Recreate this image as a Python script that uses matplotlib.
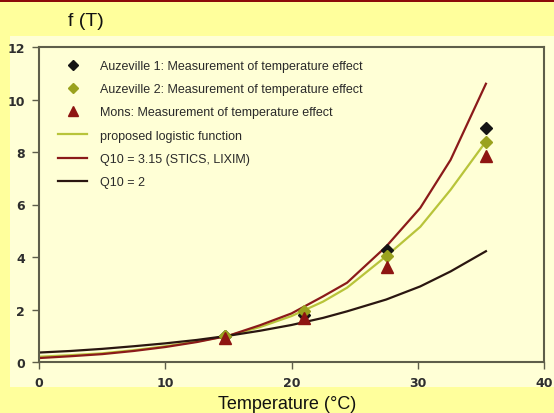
import matplotlib
matplotlib.use("Agg")
import matplotlib.pyplot as plt
from matplotlib.patches import Rectangle
from matplotlib.lines import Line2D

# measured points
t_pts = [14.7, 21.0, 27.6, 35.4]
auz1 = [1.0, 1.8, 4.25, 8.9]
auz2 = [1.0, 1.95, 4.03, 8.38]
mons = [0.92, 1.67, 3.62, 7.83]

# curves
t_curve = [0, 2.5, 5, 7.5, 10, 12.5, 15, 17.5, 20, 22.5, 24.4, 27.5, 30.2, 32.6, 35.4]
logistic = [0.2, 0.26, 0.33, 0.45, 0.6, 0.78, 1.0, 1.33, 1.75, 2.3, 2.83, 4.03, 5.15, 6.56, 8.4]
q10_315 = [0.15, 0.22, 0.3, 0.42, 0.57, 0.76, 1.0, 1.4, 1.85, 2.5, 3.02, 4.4, 5.87, 7.7, 10.6]
q10_2 = [0.36, 0.42, 0.5, 0.6, 0.71, 0.84, 1.0, 1.19, 1.41, 1.68, 1.93, 2.38, 2.88, 3.45, 4.22]

labels = [
    "Auzeville 1: Measurement of temperature effect",
    "Auzeville 2: Measurement of temperature effect",
    "Mons: Measurement of temperature effect",
    "proposed logistic function",
    "Q10 = 3.15 (STICS, LIXIM)",
    "Q10 = 2",
]

c_auz1 = "#141414"
c_auz2 = "#9aa21e"
c_mons = "#8e1512"
c_log = "#b8c43a"
c_315 = "#8b1a1a"
c_2 = "#2a1610"
spine_c = "#5e5e4a"
txt_font = ["Liberation Sans", "DejaVu Sans"]

fig = plt.figure(figsize=(5.54, 4.14), dpi=100, facecolor="#ffff9c")
fig.patches.append(Rectangle((10 / 554, 1 - 388 / 414), 1, (388 - 37) / 414,
                             transform=fig.transFigure, facecolor="#ffffd6",
                             edgecolor="none", zorder=-2))
fig.patches.append(Rectangle((0, 1 - 3 / 414), 1, 3 / 414, transform=fig.transFigure,
                             facecolor="#8b0a0a", edgecolor="none", zorder=-2))

ax = fig.add_axes([39 / 554, 1 - 363 / 414, (544 - 39) / 554, (363 - 48) / 414])
ax.set_zorder(1)
ax.set_facecolor("#ffffd6")

ax.plot(t_curve, logistic, color=c_log, lw=1.6, zorder=2)
ax.plot(t_curve, q10_315, color=c_315, lw=1.6, zorder=2)
ax.plot(t_curve, q10_2, color=c_2, lw=1.6, zorder=2)
ax.plot(t_pts, auz1, "D", color=c_auz1, ms=6.5, ls="none", zorder=3)
ax.plot(t_pts, auz2, "D", color=c_auz2, ms=6.5, ls="none", zorder=3)
ax.plot(t_pts, mons, "^", color=c_mons, ms=9, ls="none", zorder=4)

ax.set_xlim(0, 40)
ax.set_ylim(0, 12)
ax.set_xticks([0, 10, 20, 30, 40])
ax.set_yticks([0, 2, 4, 6, 8, 10, 12])
for s in ax.spines.values():
    s.set_color(spine_c)
    s.set_linewidth(1.5)
ax.tick_params(colors=spine_c, length=5, width=1, labelcolor="#2e2e2e")
ax.tick_params(axis="x", pad=5)
ax.tick_params(axis="y", pad=5)
for lab in ax.get_xticklabels() + ax.get_yticklabels():
    lab.set_fontweight("bold")
    lab.set_fontsize(9)
    lab.set_family("DejaVu Sans")

handles = [
    Line2D([], [], marker="D", color=c_auz1, ls="none", ms=5),
    Line2D([], [], marker="D", color=c_auz2, ls="none", ms=5),
    Line2D([], [], marker="^", color=c_mons, ls="none", ms=7),
    Line2D([], [], color=c_log, lw=1.6),
    Line2D([], [], color=c_315, lw=1.6),
    Line2D([], [], color=c_2, lw=1.6),
]
leg = ax.legend(handles, labels, loc="upper left", bbox_to_anchor=(0.028, 0.975),
                frameon=False, handlelength=2.3, handletextpad=1.05,
                labelspacing=0.9, borderaxespad=0,
                prop={"family": txt_font, "size": 9})
for t in leg.get_texts():
    t.set_color("#2a2a2a")

fig.text(68 / 554, 1 - 22 / 414, "f (T)", family=txt_font, fontsize=14,
         va="center", ha="left", color="#111111")
fig.text(287 / 554, 1 - 409 / 414, "Temperature (°C)", family=txt_font, fontsize=13,
         va="baseline", ha="center", color="#111111")

fig.savefig("out.png", dpi=100, facecolor=fig.get_facecolor())
